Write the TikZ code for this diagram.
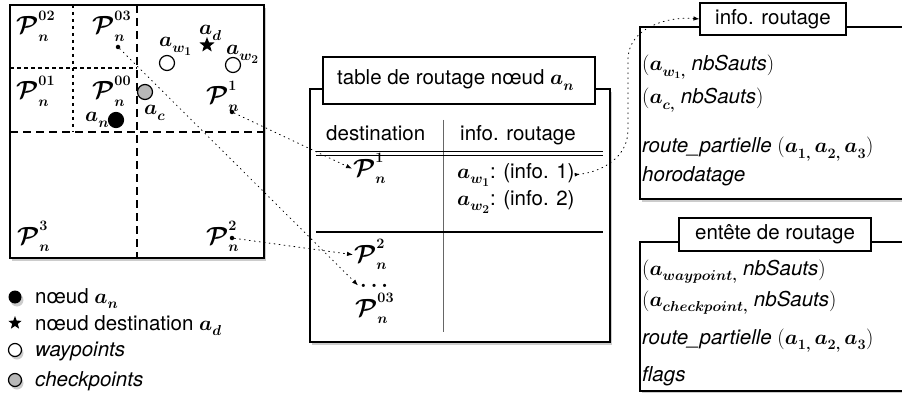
\documentclass[tikz,border=0pt]{standalone}
\usepackage{amsmath}
\usepackage[no-math]{fontspec}
\setmainfont{TeX Gyre Heros}
\usepackage{bm}
\DeclareMathSizes{24.88}{24.88}{14.4}{12}
\DeclareMathSizes{20.74}{20.74}{14.4}{12}
\usetikzlibrary{shadows,arrows.meta,shapes.geometric}
\newcommand{\Pnode}[1]{{\fontsize{24.88}{28}\selectfont$\bm{\mathcal{P}}_{\raisebox{-1.5pt}{$\scriptstyle\bm{n}$}}^{\raisebox{1.5pt}{$\scriptstyle\bm{#1}$}}$}}
\newcommand{\asub}[1]{\bm{a}_{\raisebox{-2.5pt}{$\scriptstyle\bm{#1}$}}}
\newcommand{\anode}[1]{{\fontsize{20.74}{24}\selectfont$\asub{#1}$}}
\tikzset{
  shad/.style={drop shadow={shadow xshift=2pt,shadow yshift=-3pt,opacity=0.4}},
  frame/.style={draw,line width=1.2pt,fill=white,inner sep=0pt},
  titlebox/.style={draw,line width=1.1pt,fill=white,inner sep=0pt},
  heavydash/.style={line width=1.8pt,dash pattern=on 8pt off 5pt},
  lightdash/.style={line width=1.4pt,dash pattern=on 3.5pt off 3.5pt},
  conn/.style={line width=0.8pt,dash pattern=on 1pt off 4pt,line cap=round},
  tip/.style={-{Latex[length=6pt,width=4.5pt]}},
  bw/.style={inner sep=0pt,anchor=base west},
  hole/.style={circle,draw,line width=1.2pt,minimum size=15pt,inner sep=0pt},
  pdot/.style={circle,fill,minimum size=4.5pt,inner sep=0pt},
}
\begin{document}
\begin{tikzpicture}[x=1pt,y=-1pt,font=\fontsize{20.5}{24}\selectfont]
\useasboundingbox (0,0) rectangle (902,393);

% ---------- grid ----------
\node[frame,shad,minimum width=254pt,minimum height=253pt] (grid) at (137,131.5) {};
\draw[heavydash] (137,5) -- (137,258);
\draw[heavydash] (10,132) -- (264,132);
\draw[lightdash] (73,5) -- (73,132);
\draw[lightdash] (10,68) -- (137,68);

\node[bw] (p02) at (16,34) {\Pnode{02}};
\node[bw] (p03) at (92,34) {\Pnode{03}};
\node[bw] (p01) at (16,99) {\Pnode{01}};
\node[bw] (p00) at (92,99) {\Pnode{00}};
\node[bw] (p1) at (206,104) {\Pnode{1}};
\node[bw] (p3) at (17,244) {\Pnode{3}};
\node[bw] (p2) at (206,244) {\Pnode{2}};

\node[pdot] (d03) at (118,47) {};
\node[pdot] (d1) at (232,112) {};
\node[pdot] (d2) at (232,238) {};

\node[hole,fill=black] (an) at (116,120) {};
\node[bw] (lan) at (85,122) {\anode{n}};
\node[hole,fill=black!28] (ac) at (145,92) {};
\node[bw] (lac) at (144,115) {\anode{c}};
\node[hole,fill=white] (aw1) at (167,63) {};
\node[bw] (law1) at (159,47) {\anode{w_1}};
\node[star,star points=5,star point ratio=2.4,fill=black,minimum size=16pt,inner sep=0pt] (ad) at (207,45) {};
\node[bw] (lad) at (199,35) {\anode{d}};
\node[hole,fill=white] (aw2) at (233,65) {};
\node[bw] (law2) at (226,55) {\anode{w_2}};

% ---------- legend ----------
\node[circle,fill=black,minimum size=13pt,inner sep=0pt,shad] (g1) at (15,297) {};
\node[bw] (t1) at (35,303) {nœud \anode{n}};
\node[star,star points=5,star point ratio=2.4,fill=black,minimum size=14pt,inner sep=0pt] (g2) at (15,323) {};
\node[bw] (t2) at (35,330) {nœud destination \anode{d}};
\node[circle,draw,line width=1.2pt,fill=white,minimum size=13pt,inner sep=0pt,shad] (g3) at (15,350) {};
\node[bw] (t3) at (35,356) {\textit{waypoints}};
\node[circle,draw,line width=1.2pt,fill=black!28,minimum size=13pt,inner sep=0pt,shad] (g4) at (15,380) {};
\node[bw] (t4) at (35,386) {\textit{checkpoints}};

% ---------- routing table ----------
\node[frame,shad,minimum width=300pt,minimum height=253pt] (tab) at (460,215.5) {};
\node[titlebox,minimum width=272pt,minimum height=47pt] (tabt) at (459,80.5) {};
\node[bw] (tabtt) at (337,85) {table de routage nœud \anode{n}};
\node[bw] (hd) at (326,141) {destination};
\node[bw] (hi) at (460,141) {info. routage};
\draw[line width=1pt,black!60] (443,120) -- (443,332);
\draw[line width=0.9pt] (316,151.5) -- (603,151.5);
\draw[line width=0.9pt] (316,155.5) -- (603,155.5);
\draw[line width=1.1pt] (316,232) -- (603,232);

\node[bw,inner sep=1pt] (tP1) at (352,176) {\Pnode{1}};
\node[bw] (tw1) at (457,178) {\anode{w_1}: (info. 1)};
\node[bw] (tw2) at (457,205) {\anode{w_2}: (info. 2)};
\node[bw,inner sep=1pt] (tP2) at (353,262) {\Pnode{2}};
\node[bw,inner sep=2pt] (tdots) at (358,287) {$\bm{\ldots}$};
\node[bw] (tP3) at (355,316) {\Pnode{03}};

% ---------- info. routage box ----------
\node[frame,shad,minimum width=266pt,minimum height=172pt] (ib) at (773,113) {};
\node[titlebox,minimum width=146pt,minimum height=32pt] (ibt) at (773,19) {info. routage};
\node[bw] (i1) at (642,71) {$(\asub{w_1,}$ \textit{nbSauts}$)$};
\node[bw] (i2) at (642,104) {$(\asub{c,}$ \textit{nbSauts}$)$};
\node[bw] (i3) at (642,153) {\textit{route\_partielle} $(\asub{1,}\, \asub{2,}\, \asub{3})$};
\node[bw] (i4) at (642,182) {\textit{horodatage}};

% ---------- entete de routage box ----------
\node[frame,shad,minimum width=266pt,minimum height=149pt] (eb) at (773,316.5) {};
\node[titlebox,minimum width=192pt,minimum height=33pt] (ebt) at (775,234.5) {entête de routage};
\node[bw] (e1) at (642,275) {$(\asub{waypoint,}$ \textit{nbSauts}$)$};
\node[bw] (e2) at (642,306) {$(\asub{checkpoint,}$ \textit{nbSauts}$)$};
\node[bw] (e3) at (642,344) {\textit{route\_partielle} $(\asub{1,}\, \asub{2,}\, \asub{3})$};
\node[bw] (e4) at (642,381) {\textit{flags}};

% ---------- connectors ----------
\draw[conn,tip] (d03) -- (tdots.west);
\draw[conn,tip] (d1) -- (tP1.west);
\draw[conn,tip] (d2) -- (tP2.west);
\coordinate (bend1) at (628,130);
\coordinate (bend2) at (628,60);
\draw[conn,{Latex[reversed,length=5pt,width=4pt]}-{Latex[length=6pt,width=4.5pt]}]
  (tw1.east) to[out=5,in=-90] (bend1) -- (bend2) to[out=90,in=175] (ibt.west);
\end{tikzpicture}
\end{document}
